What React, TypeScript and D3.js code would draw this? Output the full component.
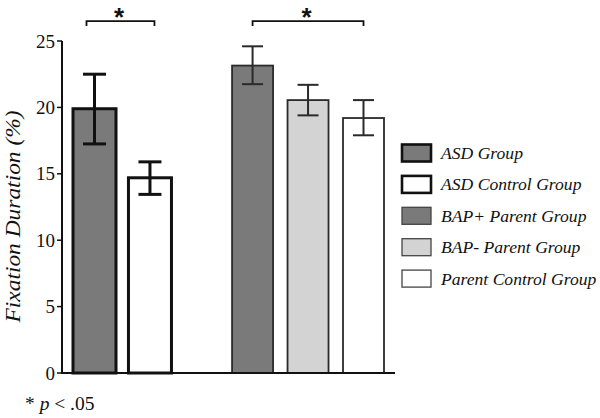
import React from "react";
import * as d3 from "d3";

const categories = ["ASD Group", "ASD Control Group", "BAP+ Parent Group", "BAP- Parent Group", "Parent Control Group"];
const groups = ["child", "child", "parent", "parent", "parent"];
const slots = [0, 1, 2.85, 3.85, 4.85];
const means = [19.9, 14.7, 23.15, 20.55, 19.2];
const errLow = [17.25, 13.45, 21.75, 19.4, 17.9];
const errHigh = [22.5, 15.9, 24.6, 21.7, 20.55];
const fills = ["#7a7a7a", "#ffffff", "#7a7a7a", "#d3d3d3", "#ffffff"];
const yTicks = [0, 5, 10, 15, 20, 25];

const W = 600;
const H = 418;
const serifFont = '"Liberation Serif"';
const sansFont = '"Liberation Sans"';

export default function App() {
  const y = d3.scaleLinear().domain([0, 25]).range([373, 41]);
  const x = d3.scaleLinear().domain([0, 4.85]).range([94.5, 363.5]);
  const axisX = 62;
  const axisEnd = 395;

  const bars = categories.map((c, i) => {
    const child = groups[i] === "child";
    return {
      c,
      cx: x(slots[i]),
      w: child ? 43 : 41,
      sw: child ? 3 : 1.8,
      stroke: child ? "#111" : "#2a2a2a",
      capHalf: child ? 11.5 : 10.5,
      errW: child ? 3 : 2,
      fill: fills[i],
      v: means[i],
      lo: errLow[i],
      hi: errHigh[i],
    };
  });

  const bracketY = y(26.5);
  const br1 = [x(slots[0]) - 8, x(slots[1]) + 4.5];
  const br2 = [x(slots[2]), x(slots[4])];

  return (
    <svg width={W} height={H} style={{ position: "absolute", left: 0, top: 0, background: "#fff" }}>
      {bars.map((b, i) => (
        <g key={i}>
          <rect
            x={b.cx - b.w / 2}
            y={y(b.v)}
            width={b.w}
            height={y(0) - y(b.v)}
            fill={b.fill}
            stroke={b.stroke}
            strokeWidth={b.sw}
          />
          <line x1={b.cx} x2={b.cx} y1={y(b.lo)} y2={y(b.hi)} stroke={b.stroke} strokeWidth={b.errW} />
          <line x1={b.cx - b.capHalf} x2={b.cx + b.capHalf} y1={y(b.hi)} y2={y(b.hi)} stroke={b.stroke} strokeWidth={b.errW} />
          <line x1={b.cx - b.capHalf} x2={b.cx + b.capHalf} y1={y(b.lo)} y2={y(b.lo)} stroke={b.stroke} strokeWidth={b.errW} />
        </g>
      ))}

      <line x1={axisX} x2={axisX} y1={y(25)} y2={y(0)} stroke="#111" strokeWidth={2} />
      <line x1={axisX - 1} x2={axisEnd} y1={y(0)} y2={y(0)} stroke="#111" strokeWidth={2} />
      {yTicks.map((t) => (
        <g key={t}>
          <line x1={axisX - 5} x2={axisX} y1={y(t)} y2={y(t)} stroke="#111" strokeWidth={1.5} />
          <text x={axisX - 7} y={y(t)} dy="0.35em" textAnchor="end" style={{ fontFamily: serifFont, fontSize: 19 }} fill="#111">
            {t}
          </text>
        </g>
      ))}

      <text
        transform={`translate(20, 216.5) rotate(-90)`}
        textAnchor="middle"
        textLength={212}
        lengthAdjust="spacingAndGlyphs"
        style={{ fontFamily: serifFont, fontStyle: "italic", fontSize: 21 }}
        fill="#111"
      >
        Fixation Duration (%)
      </text>

      {[br1, br2].map((b, i) => (
        <g key={i}>
          <path
            d={`M${b[0]},${bracketY + 5}V${bracketY}H${b[1]}V${bracketY + 5}`}
            fill="none"
            stroke="#111"
            strokeWidth={1.8}
          />
          <text
            x={(b[0] + b[1]) / 2 - 1.5}
            y={bracketY + 5}
            textAnchor="middle"
            style={{ fontFamily: sansFont, fontWeight: "bold", fontSize: 26 }}
            fill="#111"
          >
            *
          </text>
        </g>
      ))}

      {bars.map((b, i) => {
        const cy = 153 + i * 31.4;
        return (
          <g key={i}>
            <rect
              x={402}
              y={cy - 8.5}
              width={29}
              height={17}
              fill={b.fill}
              stroke={i < 2 ? "#111" : "#444"}
              strokeWidth={i < 2 ? 2.6 : 1.3}
            />
            <text x={441} y={cy + 6} style={{ fontFamily: serifFont, fontStyle: "italic", fontSize: 17.6 }} fill="#111">
              {b.c}
            </text>
          </g>
        );
      })}

      <text x={25} y={410} style={{ fontFamily: serifFont, fontSize: 19.5 }} fill="#111">
        * <tspan style={{ fontStyle: "italic" }}>p</tspan> &lt; .05
      </text>
    </svg>
  );
}
